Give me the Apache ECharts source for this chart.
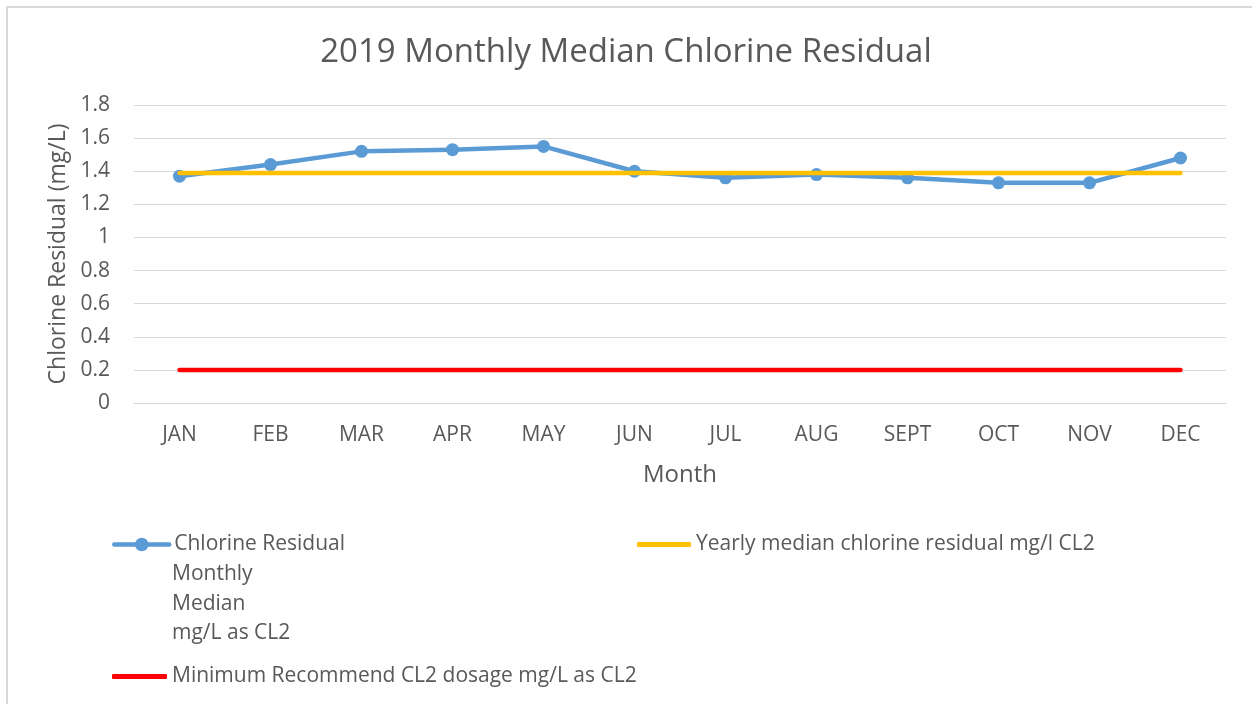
<!DOCTYPE html>
<html>
<head>
<meta charset="utf-8">
<script src="https://cdn.jsdelivr.net/npm/echarts@6/dist/echarts.min.js"></script>
<style>html,body{margin:0;padding:0;background:#fff}#c{width:1252px;height:704px}</style>
</head>
<body>
<div id="c"></div>
<script>
const months = ['JAN','FEB','MAR','APR','MAY','JUN','JUL','AUG','SEPT','OCT','NOV','DEC'];
const monthlyMedian = [1.37, 1.44, 1.52, 1.53, 1.55, 1.40, 1.36, 1.38, 1.36, 1.33, 1.33, 1.48];
const yearlyMedian = [1.39, 1.39, 1.39, 1.39, 1.39, 1.39, 1.39, 1.39, 1.39, 1.39, 1.39, 1.39];
const minimumDose = [0.2, 0.2, 0.2, 0.2, 0.2, 0.2, 0.2, 0.2, 0.2, 0.2, 0.2, 0.2];
const seriesNames = ['Chlorine Residual', 'Yearly median chlorine residual mg/l CL2', 'Minimum Recommend CL2 dosage mg/L as CL2'];
const firstLegendExtraLines = ['Monthly', 'Median', 'mg/L as CL2'];

const FONT = 'Open Sans';
const GREY = '#595959';
const chart = echarts.init(document.getElementById('c'));
const legendText = {color: GREY, fontFamily: FONT, fontSize: 21};
const extraGraphics = firstLegendExtraLines.map((t, i) => ({
  type: 'text', left: 172, top: 578 + i * 29.3 - 14, silent: true,
  style: {text: t, fill: GREY, font: '21px "Open Sans"'}
}));
chart.setOption({
  animation: false,
  backgroundColor: '#fff',
  title: {
    text: '2019 Monthly Median Chlorine Residual',
    left: 'center', top: 31,
    textStyle: {color: GREY, fontFamily: FONT, fontSize: 33, fontWeight: 'normal'}
  },
  graphic: [{
    type: 'rect', shape: {x: 7, y: 7, width: 1400, height: 900},
    style: {fill: 'none', stroke: '#d9d9d9', lineWidth: 2}, silent: true, z: -1
  }].concat(extraGraphics),
  grid: {left: 134, right: 26, top: 105, bottom: 301},
  legend: [
    {data: [seriesNames[0]], left: 112, top: 534, padding: 0, itemWidth: 55, itemHeight: 17,
     lineStyle: {width: 4.5}, textStyle: legendText},
    {data: [{name: seriesNames[1], icon: 'roundRect'}], left: 637, top: 534, padding: 0, itemWidth: 54, itemHeight: 5,
     textStyle: legendText},
    {data: [{name: seriesNames[2], icon: 'roundRect'}], left: 112, top: 666, padding: 0, itemWidth: 55, itemHeight: 5,
     textStyle: legendText}
  ],
  xAxis: {
    type: 'category', data: months, boundaryGap: true,
    name: 'Month', nameLocation: 'middle', nameGap: 60,
    nameTextStyle: {color: GREY, fontFamily: FONT, fontSize: 24},
    axisLine: {lineStyle: {color: '#d9d9d9', width: 1}},
    axisTick: {show: false},
    axisLabel: {color: GREY, fontFamily: FONT, fontSize: 21, margin: 22}
  },
  yAxis: {
    type: 'value', min: 0, max: 1.8, interval: 0.2,
    name: 'Chlorine Residual (mg/L)', nameLocation: 'middle', nameGap: 63,
    nameTextStyle: {color: GREY, fontFamily: FONT, fontSize: 23},
    axisLine: {show: false}, axisTick: {show: false},
    axisLabel: {color: GREY, fontFamily: FONT, fontSize: 21, margin: 24},
    splitLine: {lineStyle: {color: '#d9d9d9', width: 1}}
  },
  series: [
    {name: seriesNames[0], type: 'line', data: monthlyMedian, color: '#5b9bd5',
     symbol: 'circle', symbolSize: 13, lineStyle: {width: 4.5, cap: 'round', join: 'round'}, z: 2},
    {name: seriesNames[1], type: 'line', data: yearlyMedian, color: '#ffc000',
     symbol: 'none', lineStyle: {width: 4.5, cap: 'round'}, z: 3},
    {name: seriesNames[2], type: 'line', data: minimumDose, color: '#ff0000',
     symbol: 'none', lineStyle: {width: 4.5, cap: 'round'}, z: 3}
  ]
});
</script>
</body>
</html>
